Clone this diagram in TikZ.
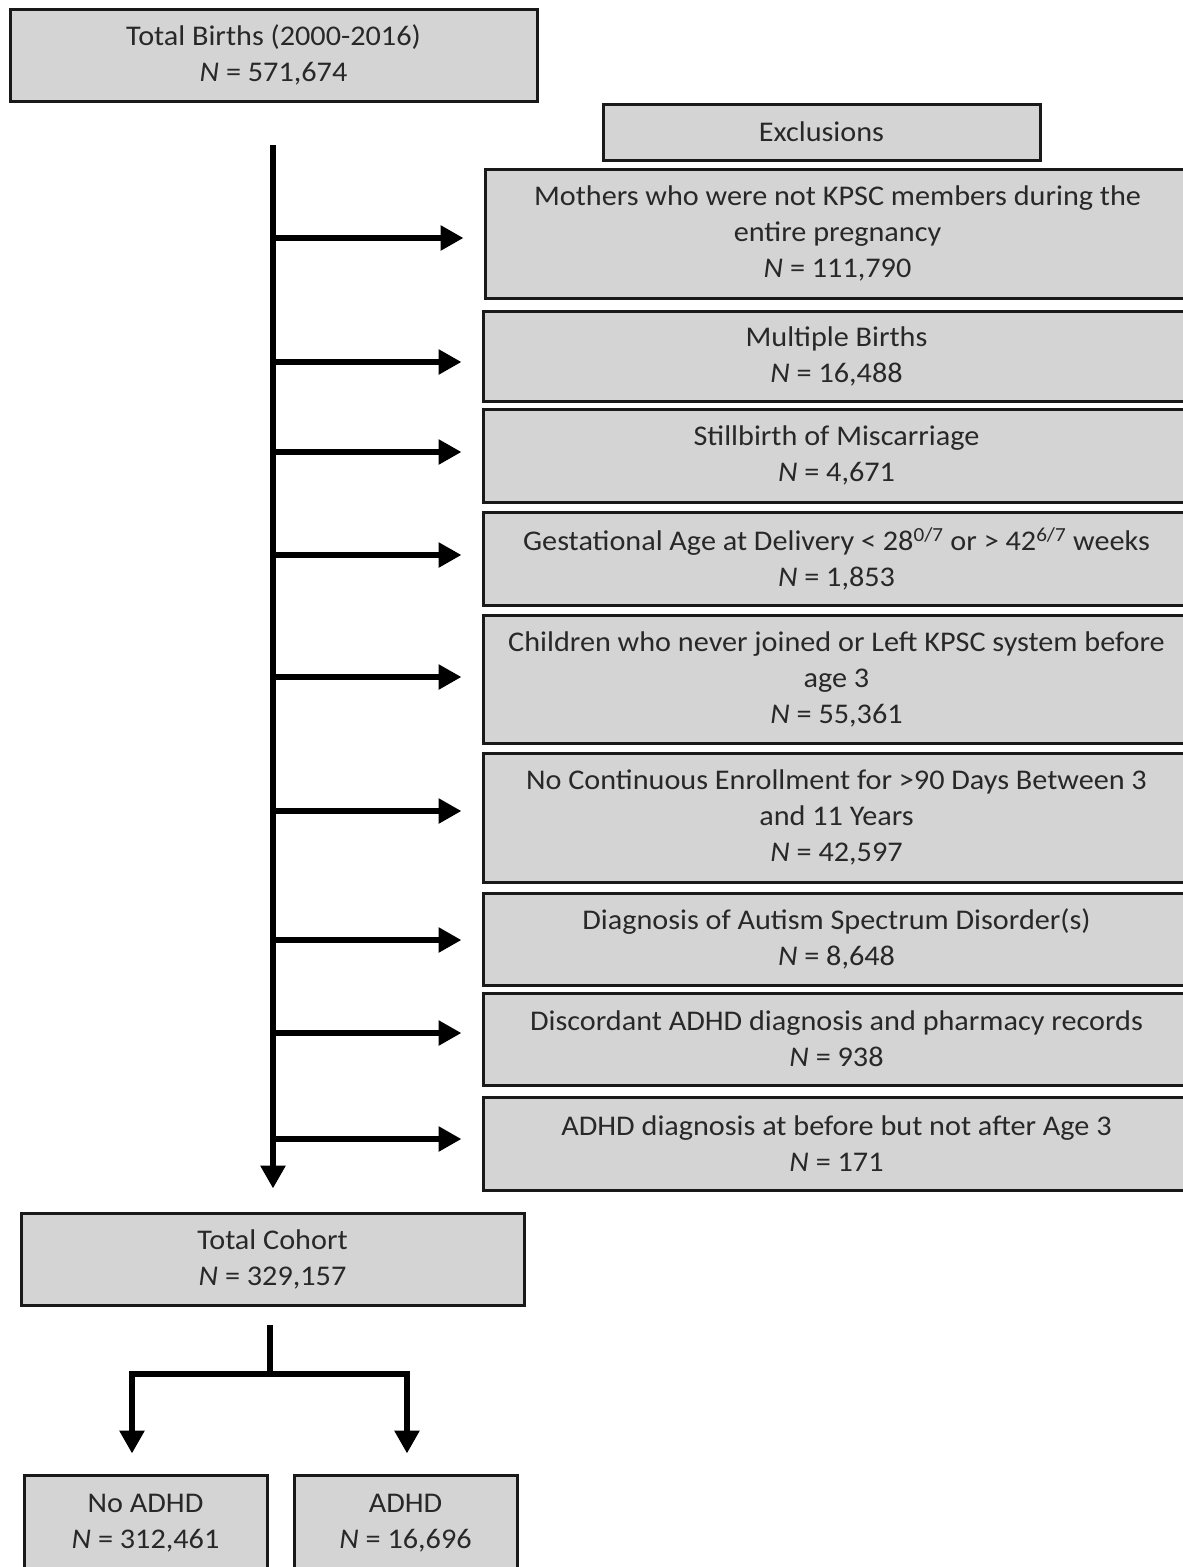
\documentclass[tikz,border=0pt]{standalone}
\usepackage{fontspec}
\setmainfont{Carlito}[FakeStretch=1.06]
\usetikzlibrary{arrows.meta}
\definecolor{boxgray}{RGB}{212,212,212}
\definecolor{edge}{RGB}{25,25,25}
\definecolor{ink}{RGB}{40,40,40}
\tikzset{
  flowbox/.style={draw=edge, line width=3pt, fill=boxgray, align=center, inner sep=0pt,
    text=ink, font=\fontsize{28.5}{36}\selectfont, rectangle},
  arr/.style={line width=6.5pt, draw=black, -{Triangle[length=23pt,width=24pt]}},
  plainline/.style={line width=6.5pt, draw=black},
}
\newcommand{\NN}{\textit{N}}
\begin{document}
\begin{tikzpicture}[x=1pt,y=-1pt]
\useasboundingbox (0,0) rectangle (1183,1567);
\clip (0,0) rectangle (1183,1567);
\node[flowbox, minimum width=527pt, minimum height=92pt] (top) at (273.5,55) {Total Births (2000-2016)\\\NN{} = 571,674};
\node[flowbox, minimum width=437pt, minimum height=56pt] (excl) at (821.5,132) {Exclusions};
\node[flowbox, minimum width=705pt, minimum height=129pt] (b1) at (837.5,233.5) {Mothers who were not KPSC members during the\\entire pregnancy\\\NN{} = 111,790};
\node[flowbox, minimum width=707pt, minimum height=90pt] (b2) at (836.5,356) {Multiple Births\\\NN{} = 16,488};
\node[flowbox, minimum width=707pt, minimum height=93pt] (b3) at (836.5,455.5) {Stillbirth of Miscarriage\\\NN{} = 4,671};
\node[flowbox, minimum width=707pt, minimum height=93pt] (b4) at (836.5,558.5) {Gestational Age at Delivery < 28\textsuperscript{0/7} or > 42\textsuperscript{6/7} weeks\\\NN{} = 1,853};
\node[flowbox, minimum width=707pt, minimum height=128pt] (b5) at (836.5,679) {Children who never joined or Left KPSC system before\\age 3\\\NN{} = 55,361};
\node[flowbox, minimum width=707pt, minimum height=129pt] (b6) at (836.5,817.5) {No Continuous Enrollment for >90 Days Between 3\\and 11 Years\\\NN{} = 42,597};
\node[flowbox, minimum width=707pt, minimum height=92pt] (b7) at (836.5,939) {Diagnosis of Autism Spectrum Disorder(s)\\\NN{} = 8,648};
\node[flowbox, minimum width=707pt, minimum height=92pt] (b8) at (836.5,1039) {Discordant ADHD diagnosis and pharmacy records\\\NN{} = 938};
\node[flowbox, minimum width=707pt, minimum height=93pt] (b9) at (836.5,1143.5) {ADHD diagnosis at before but not after Age 3\\\NN{} = 171};
\node[flowbox, minimum width=503pt, minimum height=92pt] (cohort) at (272.5,1259) {Total Cohort\\\NN{} = 329,157};
\node[flowbox, minimum width=243pt, minimum height=96pt] (noadhd) at (145.5,1523) {No ADHD\\\NN{} = 312,461};
\node[flowbox, minimum width=223pt, minimum height=96pt] (adhd) at (405.5,1523) {ADHD\\\NN{} = 16,696};
% trunk
\coordinate (trunktop) at (273,145);
\draw[arr] (trunktop) -- ([yshift=23pt]cohort.north -| trunktop);
\foreach \b/\dy in {b1/-4.5,b2/-6,b3/3.5,b4/3.5,b5/2,b6/6.5,b7/-1,b8/6,b9/4.5}{
  \draw[arr, shorten >=20pt] ([yshift=\dy pt]trunktop |- \b.west) -- ([yshift=\dy pt]\b.west);
}
% split
\coordinate (split) at (270,1374);
\draw[plainline] ([yshift=-18pt]cohort.south -| split) -- (split);
\draw[arr, shorten >=20pt] (split) -| ([xshift=-13.5pt]noadhd.north);
\draw[arr, shorten >=20pt] (split) -| ([xshift=1.5pt]adhd.north);
\end{tikzpicture}
\end{document}
